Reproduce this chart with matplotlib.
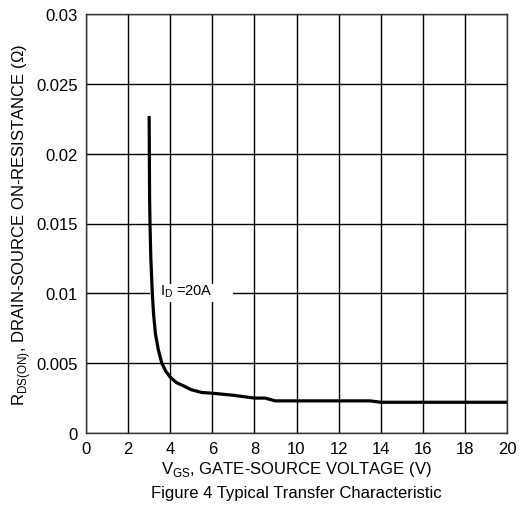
import matplotlib
matplotlib.use("Agg")
import matplotlib.pyplot as plt
from matplotlib.patches import Rectangle

plt.rcParams['font.family'] = ['Liberation Sans', 'DejaVu Sans']

vgs = [3.0, 3.01, 3.02, 3.04, 3.08, 3.15, 3.21, 3.3, 3.43, 3.6, 3.8, 4.0, 4.3, 4.6, 5.0, 5.5, 6.0, 7.0, 8.0, 8.5, 9.0, 10.0, 12.0, 13.5, 14.0, 16.0, 20.0]
rds = [0.0227, 0.0200, 0.0170, 0.0150, 0.0125, 0.0100, 0.0085, 0.0071, 0.0060, 0.0050, 0.0044, 0.0040, 0.0036, 0.0034, 0.0031, 0.0029, 0.00285, 0.0027, 0.0025, 0.0025, 0.0023, 0.0023, 0.0023, 0.0023, 0.0022, 0.0022, 0.0022]
xticks = [0, 2, 4, 6, 8, 10, 12, 14, 16, 18, 20]
yticks = [0, 0.005, 0.01, 0.015, 0.02, 0.025, 0.03]
ytick_labels = ['0', '0.005', '0.01', '0.015', '0.02', '0.025', '0.03']

fig = plt.figure(figsize=(5.21, 5.06), dpi=100)
ax = fig.add_axes([86/521, 1 - 434/506, (507-86)/521, (434-15)/506])
ax.set_xlim(0, 20)
ax.set_ylim(0, 0.03)
ax.set_xticks(xticks)
ax.set_xticklabels([str(v) for v in xticks])
ax.set_yticks(yticks)
ax.set_yticklabels(ytick_labels)
ax.tick_params(length=0, labelsize=12, pad=6)
ax.grid(True, color='black', linewidth=1.0)
for s in ax.spines.values():
    s.set_linewidth(1.0)
    s.set_color('#333333')
ax.add_patch(Rectangle((3.05, 0.0094), 3.93, 0.00127, facecolor='white', edgecolor='none', zorder=2.7))
ax.plot(vgs, rds, color='black', linewidth=2.3, solid_capstyle='butt', solid_joinstyle='round', zorder=3)
ax.text(3.5, 0.0102, r'I$_\mathregular{D}$ =20A', fontsize=10.5, va='center', ha='left', zorder=4)
ax.set_xlabel(r'V$_\mathregular{GS}$, GATE-SOURCE VOLTAGE (V)', fontsize=12, labelpad=2)
ax.set_ylabel(r'R$_\mathregular{DS(ON)}$, DRAIN-SOURCE ON-RESISTANCE (Ω)', fontsize=12, labelpad=2)
fig.text(296/521, 1 - 494/506, 'Figure 4 Typical Transfer Characteristic', fontsize=12, ha='center', va='center')
fig.savefig('out.png', dpi=100)
